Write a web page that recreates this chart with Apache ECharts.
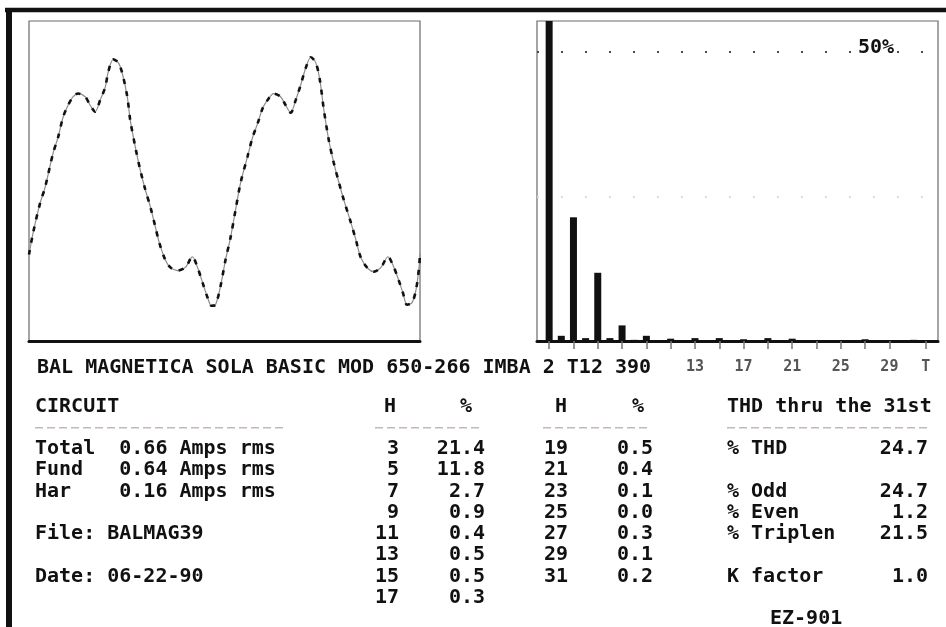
<!DOCTYPE html>
<html>
<head>
<meta charset="utf-8">
<script src="https://cdn.jsdelivr.net/npm/echarts@6/dist/echarts.min.js"></script>
<style>
  html, body { margin: 0; padding: 0; background: #fff; }
  #chart { width: 946px; height: 627px; }
</style>
</head>
<body>
<div id="chart"></div>
<script>
// Harmonic analyser printout: current waveform, harmonic spectrum and summary tables.

// Current waveform over two 60 Hz cycles: time in ms, instantaneous current in A
const waveTime = [0.00,0.34,0.94,1.37,2.05,2.48,2.91,3.33,3.76,4.19,
  4.79,5.21,5.64,6.07,6.50,6.75,7.18,7.61,7.95,8.38,
  8.63,9.06,9.49,9.91,10.34,10.77,11.11,11.62,12.05,12.65,
  13.33,13.93,14.36,14.79,15.21,15.56,15.90,16.32,16.75,17.18,
  17.61,18.03,18.63,19.06,19.49,19.91,20.34,20.85,21.45,21.88,
  22.31,22.74,23.16,23.59,24.02,24.44,24.79,25.13,25.56,25.98,
  26.41,26.84,27.44,27.86,28.29,28.89,29.40,30.00,30.60,31.03,
  31.45,31.88,32.22,32.65,32.99,33.25,33.33];
const waveAmps = [-0.69,-0.49,-0.21,-0.06,0.26,0.41,0.60,0.71,0.79,0.82,
  0.79,0.71,0.65,0.76,0.88,1.02,1.14,1.11,1.01,0.79,
  0.57,0.32,0.10,-0.08,-0.24,-0.43,-0.58,-0.74,-0.81,-0.84,
  -0.81,-0.71,-0.81,-0.95,-1.09,-1.17,-1.16,-0.99,-0.74,-0.53,
  -0.27,-0.02,0.23,0.41,0.54,0.68,0.76,0.82,0.79,0.71,
  0.64,0.76,0.90,1.06,1.16,1.11,0.95,0.67,0.38,0.17,
  -0.01,-0.18,-0.39,-0.55,-0.72,-0.82,-0.85,-0.81,-0.71,-0.79,
  -0.91,-1.05,-1.16,-1.14,-1.02,-0.81,-0.68];

// Harmonic spectrum, % of fundamental
const fundamentalOrder = 1;
const fundamentalPct = 100;
const oddOrders = [3,5,7,9,11,13,15,17,19,21,23,25,27,29,31];
const oddPct = [21.4,11.8,2.7,0.9,0.4,0.5,0.5,0.3,0.5,0.4,0.1,0.0,0.3,0.1,0.2];
const evenOrders = [2,4,6,8,10,12,14,16,18,20,22,24,26,28,30];
const evenPct = [0.9,0.5,0.5,0.2,0.1,0.1,0.1,0.1,0.1,0.1,0.1,0.1,0.1,0.1,0.1];

// Spectrum axis marks; the last slot is the "T" column
const spectrumTicks = [1,3,5,7,9,11,13,15,17,19,21,23,25,27,29,32];
const spectrumLabels = [13,17,21,25,29,32];
const totalSlot = 32;

// Report texts
const headerLine = 'BAL MAGNETICA SOLA BASIC MOD 650-266 IMBA 2 T12 390';
const circuitNames = ['Total','Fund','Har'];
const circuitAmps = ['0.66','0.64','0.16'];
const fileName = 'BALMAG39';
const dateText = '06-22-90';
const thdNames = ['% THD','% Odd','% Even','% Triplen','K factor'];
const thdValues = ['24.7','24.7','1.2','21.5','1.0'];
const modelName = 'EZ-901';

// ---------------------------------------------------------------------------
const FONT = 'bold 20px "DejaVu Sans Mono", monospace';
const INK = '#111';
const rowY = r => 406.5 + 21.25 * r;

function txt(text, x, y, align, font, fill) {
  return {
    type: 'text', x: x, y: y, z: 100,
    style: { text: text, font: font || FONT, fill: fill || INK,
             textAlign: align || 'left', textVerticalAlign: 'middle' }
  };
}
function rule(x1, x2, y) {
  return {
    type: 'line', z: 100,
    shape: { x1: x1, y1: y, x2: x2, y2: y },
    style: { stroke: '#c4b6c0', lineWidth: 1.5, lineDash: [8, 4] }
  };
}

const graphics = [];
// page frame
graphics.push({ type: 'line', z: 100, shape: { x1: 5, y1: 10, x2: 946, y2: 10 }, style: { stroke: INK, lineWidth: 4.5 } });
graphics.push({ type: 'line', z: 100, shape: { x1: 9, y1: 8, x2: 9, y2: 627 }, style: { stroke: INK, lineWidth: 6 } });

// title line under the plots
graphics.push(txt(headerLine, 37, 368));

// circuit block
graphics.push(txt('CIRCUIT', 35, rowY(0)));
graphics.push(rule(35, 287, rowY(1)));
circuitNames.forEach((n, i) => {
  graphics.push(txt(n.padEnd(7) + circuitAmps[i] + ' Amps rms', 35, rowY(2 + i)));
});
graphics.push(txt('File: ' + fileName, 35, rowY(6)));
graphics.push(txt('Date: ' + dateText, 35, rowY(8)));

// harmonic tables
const splitAt = 8;
graphics.push(txt('H', 390, rowY(0), 'center'));
graphics.push(txt('%', 466, rowY(0), 'center'));
graphics.push(rule(375, 482, rowY(1)));
graphics.push(txt('H', 561, rowY(0), 'center'));
graphics.push(txt('%', 638, rowY(0), 'center'));
graphics.push(rule(543, 650, rowY(1)));
oddOrders.forEach((h, i) => {
  const second = i >= splitAt;
  const r = 2 + (second ? i - splitAt : i);
  graphics.push(txt(String(h), second ? 568 : 399, rowY(r), 'right'));
  graphics.push(txt(oddPct[i].toFixed(1), second ? 653 : 485, rowY(r), 'right'));
});

// THD block
const thdRowIdx = [2, 4, 5, 6, 8];
graphics.push(txt('THD thru the 31st', 727, rowY(0)));
graphics.push(rule(727, 927, rowY(1)));
thdNames.forEach((n, i) => {
  graphics.push(txt(n, 727, rowY(thdRowIdx[i])));
  graphics.push(txt(thdValues[i], 928, rowY(thdRowIdx[i]), 'right'));
});
graphics.push(txt(modelName, 770, rowY(10)));

// 50% marker on the spectrum
graphics.push({ type: 'rect', z: 100, shape: { x: 854, y: 39, width: 42, height: 20 }, style: { fill: '#fff' } });
graphics.push(txt('50%', 858, 48));

// spectrum bars
const barData = [[fundamentalOrder, fundamentalPct]];
evenOrders.forEach((h, i) => barData.push([h, evenPct[i]]));
oddOrders.forEach((h, i) => barData.push([h, oddPct[i]]));
barData.sort((a, b) => a[0] - b[0]);

const waveData = waveTime.map((t, i) => [t, waveAmps[i]]);

const chart = echarts.init(document.getElementById('chart'), null, { renderer: 'canvas' });
chart.setOption({
  animation: false,
  backgroundColor: '#fff',
  graphic: { elements: graphics },
  grid: [
    { left: 29, top: 21, width: 391, height: 320, show: true, borderColor: '#6a6a6a', borderWidth: 1.2, backgroundColor: 'transparent' },
    { left: 537, top: 21, width: 401, height: 320, show: true, borderColor: '#6a6a6a', borderWidth: 1.2, backgroundColor: 'transparent' }
  ],
  xAxis: [
    { gridIndex: 0, type: 'value', min: 0, max: 33.33,
      axisLine: { show: true, onZero: false, lineStyle: { color: INK, width: 3 } },
      axisTick: { show: false }, axisLabel: { show: false }, splitLine: { show: false } },
    { gridIndex: 1, type: 'value', min: 0, max: 33,
      axisLine: { show: true, onZero: false, lineStyle: { color: INK, width: 3 } },
      axisTick: { show: true, customValues: spectrumTicks, length: 8, lineStyle: { color: '#777', width: 1.5 } },
      axisLabel: { show: true, customValues: spectrumLabels, margin: 19,
        formatter: v => (v === totalSlot ? 'T' : String(v)),
        color: '#555', fontFamily: '"DejaVu Sans Mono", monospace', fontWeight: 'bold', fontSize: 15 },
      splitLine: { show: false } }
  ],
  yAxis: [
    { gridIndex: 0, type: 'value', min: -1.5, max: 1.5, show: false, splitLine: { show: false } },
    { gridIndex: 1, type: 'value', min: 0, max: 55.36, show: false, splitLine: { show: false } }
  ],
  series: [
    { type: 'line', xAxisIndex: 0, yAxisIndex: 0, data: waveData, smooth: 0.3,
      showSymbol: false, lineStyle: { color: '#8c8c8c', width: 1.2 }, z: 3 },
    { type: 'line', xAxisIndex: 0, yAxisIndex: 0, data: waveData, smooth: 0.3,
      showSymbol: false, lineStyle: { color: INK, width: 2.6, type: [5, 7] }, z: 4 },
    { type: 'bar', xAxisIndex: 1, yAxisIndex: 1, data: barData, barWidth: 7,
      itemStyle: { color: INK }, z: 5,
      markLine: {
        silent: true, symbol: 'none', label: { show: false },
        data: [
          { yAxis: 50, lineStyle: { color: '#4a4a4a', width: 2, type: [2, 22] } },
          { yAxis: 25, lineStyle: { color: '#dcdcdc', width: 2, type: [2, 22] } }
        ]
      } }
  ]
});
</script>
</body>
</html>
